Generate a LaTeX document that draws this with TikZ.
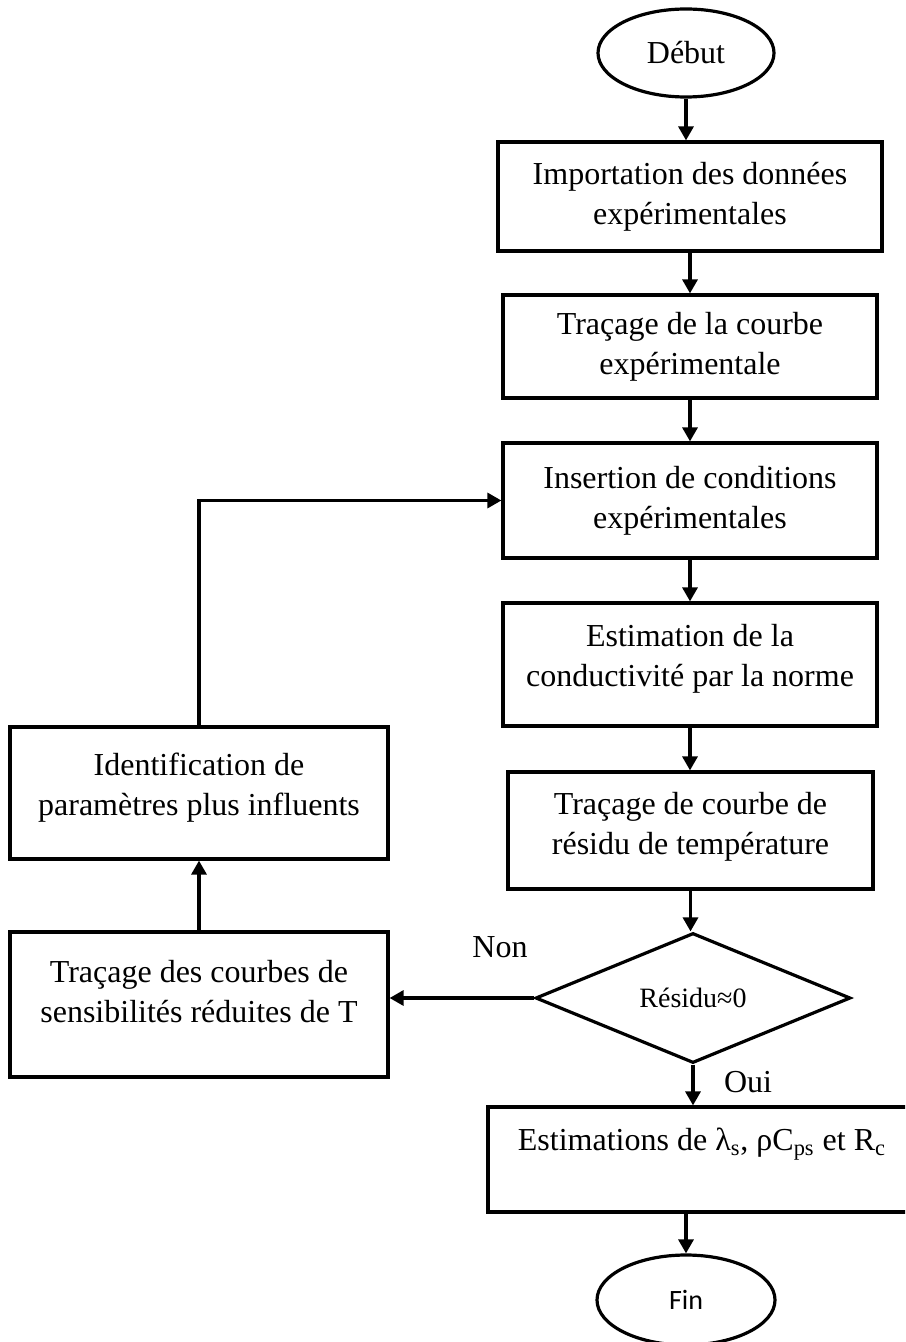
\documentclass[tikz,border=0pt]{standalone}
\usepackage{fontspec}
\setmainfont{Liberation Serif}
\newfontfamily\calibri{Carlito}
\usetikzlibrary{shapes.geometric,arrows.meta}

\tikzset{
  proc/.style={draw, rectangle, line width=1.6pt, align=center, inner sep=2pt,
    font=\fontsize{16}{20}\selectfont},
  term/.style={draw, ellipse, line width=1.6pt, inner sep=0pt,
    minimum width=88pt, minimum height=44pt},
  cond/.style={draw, diamond, line width=1.6pt, inner sep=0pt,
    minimum width=157.5pt, minimum height=65pt, font=\fontsize{14}{17}\selectfont},
  flow/.style={line width=1.6pt, -{Triangle[length=7pt,width=7.5pt]}},
  lbl/.style={font=\fontsize{16}{20}\selectfont}
}

\begin{document}
\begin{tikzpicture}[x=0.5pt,y=-0.5pt]
    \clip (0,0) rectangle (905,1342);

    % Main column
    \node[term, font=\fontsize{16}{20}\selectfont] (deb) at (686,53) {Début};
    \node[proc, minimum width=192pt, minimum height=54.5pt] (imp) at (690,196.5)
        {Importation des données\\expérimentales};
    \node[proc, minimum width=187pt, minimum height=51.5pt] (trc) at (690,346.5)
        {Traçage de la courbe\\expérimentale};
    \node[proc, minimum width=187pt, minimum height=57.5pt] (ins) at (690,500.5)
        {Insertion de conditions\\expérimentales};
    \node[proc, minimum width=187pt, minimum height=61.5pt, text depth=9.5pt] (est) at (690,664.5)
        {Estimation de la\\conductivité par la norme};
    \node[proc, minimum width=182.5pt, minimum height=58.5pt, text depth=7.5pt] (res) at (690.5,830.5)
        {Traçage de courbe de\\résidu de température};
    \node[cond] (dec) at (693,998) {Résidu≈0};
    \node[proc, minimum width=214pt, minimum height=52.5pt] (estim) at (702,1159.5)
        {Estimations de λ\textsubscript{s}, ρC\textsubscript{ps} et R\textsubscript{c}\\ \mbox{}};
    \node[term, minimum width=89pt, minimum height=45pt, font=\calibri\fontsize{14}{17}\selectfont]
        (fin) at (686,1300) {Fin};

    % Loop column
    \node[proc, minimum width=189pt, minimum height=66pt, text depth=8.5pt] (ide) at (199,793)
        {Identification de\\paramètres plus influents};
    \node[proc, minimum width=189pt, minimum height=72.5pt, text depth=13pt] (sen) at (199,1004.5)
        {Traçage des courbes de\\sensibilités réduites de T};

    % Branch labels
    \node[lbl] (non) at (500,947) {Non};
    \node[lbl] (oui) at (748,1082) {Oui};

    % Arrows
    \draw[flow] (deb) -- (deb |- imp.north);
    \draw[flow] (imp) -- (imp |- trc.north);
    \draw[flow] (trc) -- (trc |- ins.north);
    \draw[flow] (ins) -- (ins |- est.north);
    \draw[flow] (est) -- (est |- res.north);
    \draw[flow] (res) -- (res |- dec.north);
    \draw[flow] (dec) -- (dec |- estim.north);
    \draw[flow] (fin |- estim.south) -- (fin);
    \draw[flow] (dec.west) -- (dec.west -| sen.east);
    \draw[flow] (sen) -- (ide);
    \draw[flow] (ide.north) |- (ins.west);
\end{tikzpicture}
\end{document}
